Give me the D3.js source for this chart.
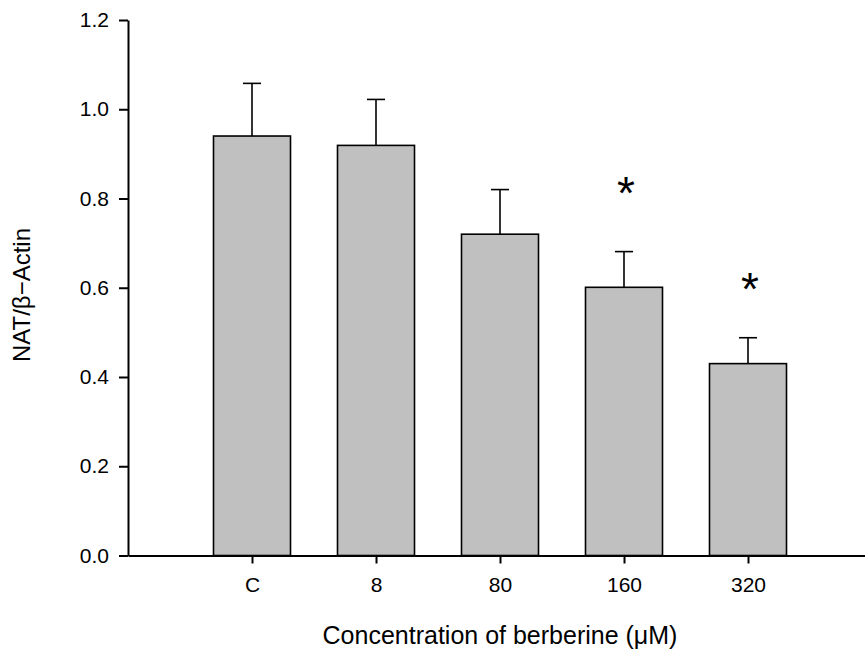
<!DOCTYPE html>
<html>
<head>
<meta charset="utf-8">
<script src="https://cdn.jsdelivr.net/npm/d3@7"></script>
<style>
  body { margin: 0; background: #fff; }
  text { font-family: "Liberation Sans", Arial, sans-serif; fill: #000; }
</style>
</head>
<body>
<svg id="chart" width="865" height="650"></svg>
<script>
const categories = ["C", "8", "80", "160", "320"];
const means = [0.94, 0.919, 0.72, 0.601, 0.43];
const errors = [0.118, 0.103, 0.10, 0.08, 0.058];
const significant = [false, false, false, true, true];
const starLevels = [null, null, null, 0.776, 0.561];
const yTicks = [0.0, 0.2, 0.4, 0.6, 0.8, 1.0, 1.2];

const svg = d3.select("#chart");

// x positions: categories sit at 1..5 on a 0..6 scale
const xScale = d3.scaleLinear().domain([0, 6]).range([128, 872]);
const yScale = d3.scaleLinear().domain([0, 1.2]).range([555.5, 20]);
const barWidth = 77;

// bars
svg.append("g")
  .selectAll("rect")
  .data(means)
  .enter()
  .append("rect")
  .attr("x", (d, i) => xScale(i + 1) - barWidth / 2)
  .attr("y", d => yScale(d))
  .attr("width", barWidth)
  .attr("height", d => yScale(0) - yScale(d))
  .attr("fill", "#c0c0c0")
  .attr("stroke", "#000")
  .attr("stroke-width", 1.6);

// error bars (upper only)
const err = svg.append("g").attr("stroke", "#000").attr("stroke-width", 1.6);
means.forEach((m, i) => {
  const cx = xScale(i + 1);
  err.append("line")
    .attr("x1", cx).attr("x2", cx)
    .attr("y1", yScale(m)).attr("y2", yScale(m + errors[i]));
  err.append("line")
    .attr("x1", cx - 9).attr("x2", cx + 9)
    .attr("y1", yScale(m + errors[i])).attr("y2", yScale(m + errors[i]));
});

// significance stars
categories.forEach((c, i) => {
  if (!significant[i]) return;
  svg.append("text")
    .attr("x", xScale(i + 1) + 2)
    .attr("y", yScale(starLevels[i]))
    .attr("text-anchor", "middle")
    .style("font-size", "46px")
    .text("*");
});

// y axis
const yAxis = d3.axisLeft(yScale)
  .tickValues(yTicks)
  .tickFormat(d3.format(".1f"))
  .tickSize(9)
  .tickSizeOuter(0)
  .tickPadding(10);

const gy = svg.append("g")
  .attr("transform", `translate(${xScale(0)},0)`)
  .call(yAxis);
gy.selectAll("path, line").attr("stroke", "#000").attr("stroke-width", 2);
gy.selectAll("text").style("font-size", "21px");

// x axis
const xAxis = d3.axisBottom(xScale)
  .tickValues([1, 2, 3, 4, 5])
  .tickFormat(d => categories[d - 1])
  .tickSize(8)
  .tickSizeOuter(0)
  .tickPadding(14);

const gx = svg.append("g")
  .attr("transform", `translate(0,${yScale(0)})`)
  .call(xAxis);
gx.selectAll("path, line").attr("stroke", "#000").attr("stroke-width", 2);
gx.selectAll("text").style("font-size", "21px");

// axis titles
svg.append("text")
  .attr("x", 500)
  .attr("y", 644)
  .attr("text-anchor", "middle")
  .style("font-size", "25px")
  .text("Concentration of berberine (\u03bcM)");

svg.append("text")
  .attr("transform", "translate(30,295) rotate(-90)")
  .attr("text-anchor", "middle")
  .style("font-size", "24px")
  .text("NAT/\u03b2\u2212Actin");
</script>
</body>
</html>
